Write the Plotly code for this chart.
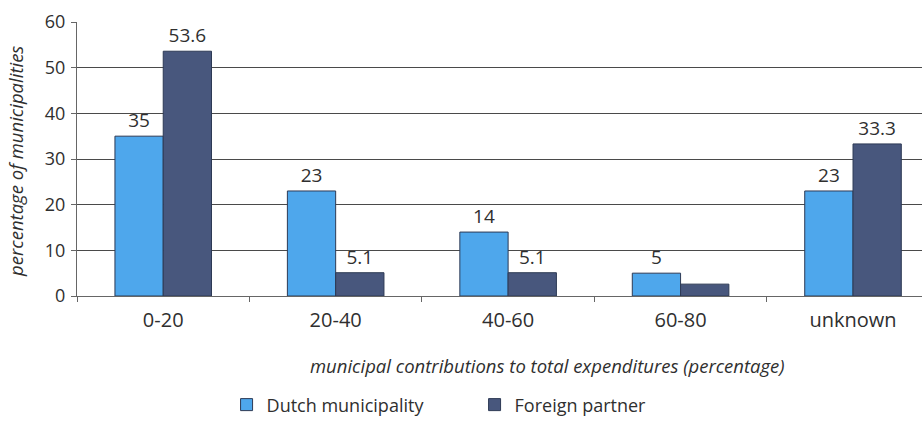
import plotly.graph_objects as go

# Share of municipalities by municipal contribution to total expenditures
categories = ["0-20", "20-40", "40-60", "60-80", "unknown"]
dutch_values = [35, 23, 14, 5, 23]
foreign_values = [53.6, 5.1, 5.1, 2.6, 33.3]
# which bars carry a value label
dutch_labelled = [True, True, True, True, True]
foreign_labelled = [True, True, True, False, True]
y_ticks = [0, 10, 20, 30, 40, 50, 60]

series_names = ["Dutch municipality", "Foreign partner"]
colors = ["#4ea7ec", "#48577d"]
text_color = "#2f2f2f"
font_main = "Open Sans"


def labels(values, flags):
    return [f"{v:g}" if f else "" for v, f in zip(values, flags)]


fig = go.Figure()
for name, vals, flags, col in [
    (series_names[0], dutch_values, dutch_labelled, colors[0]),
    (series_names[1], foreign_values, foreign_labelled, colors[1]),
]:
    fig.add_trace(go.Bar(
        x=categories, y=vals, name=name,
        marker=dict(color=col, line=dict(color="#2d3a55", width=1)),
        text=labels(vals, flags), textposition="outside",
        textfont=dict(family=font_main, size=19, color=text_color),
        cliponaxis=False,
    ))

fig.update_layout(
    width=922, height=424,
    margin=dict(l=77, r=0, t=22, b=128),
    paper_bgcolor="white", plot_bgcolor="white",
    barmode="group", bargap=0.44, bargroupgap=0,
    showlegend=True,
    legend=dict(orientation="h", x=0.177, y=-0.465, xanchor="left", yanchor="bottom",
                font=dict(family=font_main, size=18, color=text_color),
                itemwidth=30, entrywidth=203, traceorder="normal"),
    font=dict(family=font_main, color=text_color),
)

fig.update_xaxes(
    range=[-0.5, 4.4],
    showline=True, linecolor="#666", linewidth=1,
    ticks="outside", tickson="boundaries", ticklen=5, tickcolor="#666",
    tickfont=dict(family=font_main, size=20, color=text_color),
    ticklabelstandoff=6,
    showgrid=False, automargin=False,
)
fig.update_yaxes(
    range=[0, 60], tickvals=y_ticks,
    showline=True, linecolor="#666", linewidth=1,
    ticks="outside", ticklen=5, tickcolor="#666",
    tickfont=dict(family=font_main, size=18, color=text_color),
    ticklabelstandoff=2,
    showgrid=True, gridcolor="#4a4a4a", gridwidth=1.3,
    zeroline=False, automargin=False,
)

fig.add_annotation(
    text="percentage of municipalities", textangle=-90,
    xref="paper", yref="paper", x=-0.072, y=0.49,
    xanchor="center", yanchor="middle", showarrow=False,
    font=dict(family=font_main, size=18.5, color=text_color, style="italic"),
)
fig.add_annotation(
    text="municipal contributions to total expenditures (percentage)",
    xref="paper", yref="paper", x=0.557, y=-0.255,
    xanchor="center", yanchor="middle", showarrow=False,
    font=dict(family=font_main, size=18.5, color=text_color, style="italic"),
)

fig.write_html("out.html")
